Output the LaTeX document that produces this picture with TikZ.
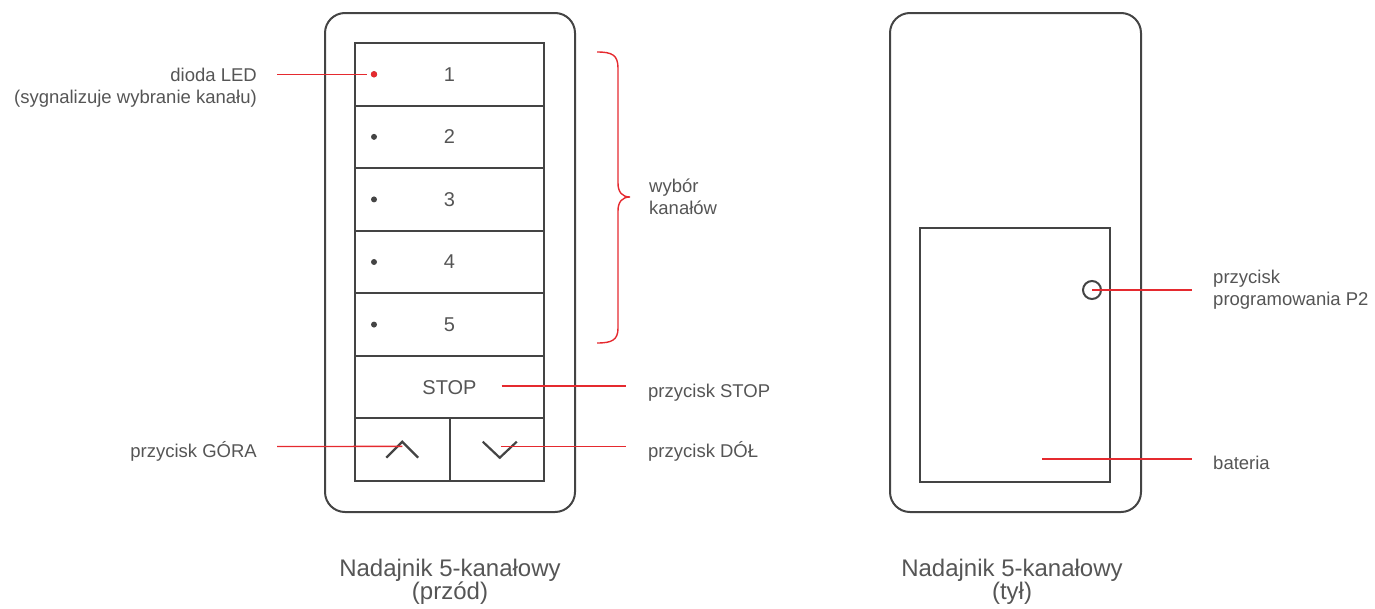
\documentclass[tikz,border=0pt]{standalone}
\usepackage{fontspec}
\setmainfont{Liberation Sans}
\usetikzlibrary{positioning,calc}
\definecolor{ink}{HTML}{444444}
\definecolor{txt}{HTML}{555555}
\definecolor{accent}{HTML}{E52A2F}
\tikzset{
  body/.style={draw=ink, line width=2pt, rounded corners=20pt, inner sep=0pt},
  keybox/.style={draw=ink, line width=2pt, minimum width=189pt, minimum height=62.57pt,
    inner sep=0pt, text=txt, font=\fontsize{20}{24}\selectfont},
  halfkey/.style={keybox, minimum width=94.5pt},
  chevron/.style={draw=ink, line width=2.2pt},
  ledbox/.style={circle, fill=ink, inner sep=0pt, minimum size=6pt},
  lbl/.style={text=txt, inner sep=0pt, font=\fontsize{18.5}{22}\selectfont},
  caption/.style={text=txt, inner sep=0pt, align=center, font=\fontsize{24}{23}\selectfont},
  lead/.style={draw=accent, line width=1.4pt},
}
\begin{document}
\begin{tikzpicture}[x=1pt,y=-1pt]
    \useasboundingbox (0,0) rectangle (1375,608);
    % front of the transmitter
    \node[body, minimum width=250pt, minimum height=499pt] (front) at (450,262.5) {};
    \foreach \k in {1,...,5} {
        \node[keybox] (key\k) at (449.5,{43+(\k-0.5)*62.57}) {\k};
        \node[ledbox] (led\k) at (374,{43+(\k-0.5)*62.57}) {};
    }
    \node[keybox] (stop) at (449.5,{43+5.5*62.57}) {STOP};
    \node[halfkey] (up) at (402.25,{43+6.5*62.57}) {};
    \node[halfkey] (down) at (496.75,{43+6.5*62.57}) {};
    \fill[accent] (led1) circle[radius=3.2pt];
    \draw[chevron] ($(up.center)+(-16,8)$) -- ($(up.center)+(0,-8)$) -- ($(up.center)+(16,8)$);
    \draw[chevron] ($(down.center)+(-14,-8)$) -- ($(down.center)+(3,8)$) -- ($(down.center)+(20,-8)$);
    % back of the transmitter
    \node[body, minimum width=251pt, minimum height=499pt] (back) at (1015.5,262.5) {};
    \node[draw=ink, line width=2pt, minimum width=190pt, minimum height=254pt, inner sep=0pt] (bat) at (1015,355) {};
    \node[circle, draw=ink, line width=2pt, minimum size=18pt, inner sep=0pt] (p2) at (1092,290) {};
    % channel brace
    \draw[lead] (597,52) .. controls (612,52) and (618,55) .. (618,68)
        -- (618,183) .. controls (618,192) and (622,197) .. (630,197)
        .. controls (622,197) and (618,202) .. (618,211)
        -- (618,328) .. controls (618,340) and (612,343) .. (597,343);
    % labels
    \node[lbl, align=right, anchor=north east] (diodalbl) at (257,68) {dioda LED\\(sygnalizuje wybranie kanału)};
    \node[lbl, anchor=base east] (goralbl) at (257,457) {przycisk GÓRA};
    \node[lbl, anchor=base west] (stoplbl) at (648,397) {przycisk STOP};
    \node[lbl, anchor=base west] (dollbl) at (648,457) {przycisk DÓŁ};
    \node[lbl, align=left, anchor=north west] (kanalylbl) at (649,179) {wybór\\kanałów};
    \node[lbl, align=left, anchor=north west] (p2lbl) at (1213,270) {przycisk\\programowania P2};
    \node[lbl, anchor=base west] (batlbl) at (1213,469) {bateria};
    \node[caption, anchor=north] (frontcap) at (450,559) {Nadajnik 5-kanałowy\\(przód)};
    \node[caption, anchor=north] (backcap) at (1012,559) {Nadajnik 5-kanałowy\\(tył)};
    % leader lines
    \draw[lead] (diodalbl.east |- led1) ++(20,0) -- ($(led1.west)+(-4,0)$);
    \draw[lead] (goralbl.east |- 0,446.5) ++(20,0) -- ($(up.center)+(0,-3.3)$);
    \draw[lead] ($(stop.center)+(52,-1)$) -- ($(stoplbl.west |- stop.center)+(-22,-1)$);
    \draw[lead] ($(down.center)+(4,-3.3)$) -- ($(dollbl.west |- down.center)+(-22,-3.3)$);
    \draw[lead] (p2.center) -- ($(p2lbl.west |- p2.center)+(-21,0)$);
    \draw[lead] ($(bat.center)+(27,104)$) -- ($(batlbl.west |- bat.center)+(-21,104)$);
\end{tikzpicture}
\end{document}
